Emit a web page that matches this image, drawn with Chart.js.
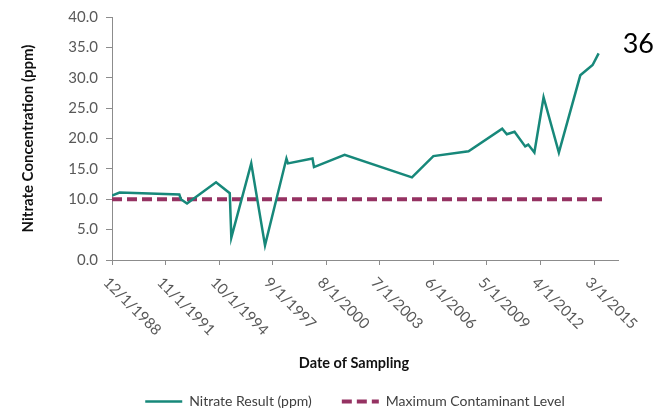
<!DOCTYPE html>
<html>
<head>
<meta charset="utf-8">
<script src="https://cdn.jsdelivr.net/npm/chart.js@4/dist/chart.umd.min.js"></script>
<style>
  body { margin: 0; background: #fff; }
  #wrap { width: 662px; height: 409px; }
</style>
</head>
<body>
<div id="wrap"><canvas id="chart" width="662" height="409"></canvas></div>
<script>
// sampling dates (m/d/yyyy) and nitrate readings
const sampleDates = ['12/1/1988','5/1/1989','8/1/1992','9/1/1992','1/1/1993','8/1/1994','5/1/1995','6/1/1995',
  '7/1/1996','4/1/1997','6/1/1998','7/1/1998','11/1/1999','12/1/1999','8/1/2001','4/1/2005','6/1/2006',
  '5/1/2008','3/1/2010','6/1/2010','11/1/2010','6/1/2011','8/1/2011','12/1/2011','6/1/2012','4/1/2013',
  '6/1/2014','2/1/2015','6/1/2015'];
const nitrate = [10.6,11.1,10.8,10.0,9.3,12.8,11.0,3.7,15.9,2.4,16.7,15.9,16.7,15.3,17.3,13.6,17.1,
  17.9,21.6,20.7,21.1,18.7,19.0,17.7,26.8,17.7,30.4,32.1,34.0];

// maximum contaminant level line
const mclDates = ['12/1/1988','8/20/2015'];
const mcl = [10, 10];

const tickLabels = ['12/1/1988','11/1/1991','10/1/1994','9/1/1997','8/1/2000','7/1/2003','6/1/2006','5/1/2009','4/1/2012','3/1/2015'];
const axisStart = '12/1/1988';
const axisEnd = '6/20/2016';
const endLabel = '36';

function toMs(s){
  const [m, d, y] = s.split('/').map(Number);
  return Date.UTC(y, m - 1, d);
}
const tickValues = tickLabels.map(toMs);

const overlay = {
  id: 'overlay',
  afterLayout(chart){
    // nudge legend to where excel put it
    const lg = chart.legend;
    lg.left -= 10; lg.right -= 10;
    lg.top += 9.5; lg.bottom += 9.5;
  },
  afterDraw(chart){
    const {ctx, scales: {x}} = chart;
    ctx.save();
    ctx.fillStyle = '#595959';
    ctx.font = '15px Lato';
    ctx.textAlign = 'left';
    ctx.textBaseline = 'middle';
    x.ticks.forEach((t, i) => {
      const px = x.getPixelForValue(t.value);
      ctx.save();
      ctx.translate(px - 6, x.top + 20);
      ctx.rotate(Math.PI / 4);
      ctx.fillText(tickLabels[i], 0, 0);
      ctx.restore();
    });
    ctx.fillStyle = '#111';
    ctx.font = 'bold 14.5px Lato';
    ctx.textAlign = 'center';
    ctx.fillText('Date of Sampling', (x.left + x.right) / 2 - 11, 363);

    const pts = chart.getDatasetMeta(0).data;
    const last = pts[pts.length - 1];
    ctx.fillStyle = '#000';
    ctx.font = '27px Lato';
    ctx.textAlign = 'left';
    ctx.fillText(endLabel, last.x + 24, last.y - 9);
    ctx.restore();
  }
};

new Chart(document.getElementById('chart'), {
  type: 'line',
  data: {
    datasets: [{
      label: 'Nitrate Result (ppm)',
      data: sampleDates.map((d, i) => ({x: toMs(d), y: nitrate[i]})),
      borderColor: '#17887a',
      backgroundColor: '#17887a',
      borderWidth: 2.5,
      pointRadius: 0,
      tension: 0
    }, {
      label: 'Maximum Contaminant Level',
      data: mclDates.map((d, i) => ({x: toMs(d), y: mcl[i]})),
      borderColor: '#953262',
      backgroundColor: '#953262',
      borderWidth: 4,
      borderDash: [10, 5],
      pointRadius: 0
    }]
  },
  options: {
    responsive: false,
    animation: false,
    layout: { padding: { top: 15, right: 44, left: 0, bottom: 0 } },
    scales: {
      x: {
        type: 'linear',
        min: toMs(axisStart),
        max: toMs(axisEnd),
        afterBuildTicks: s => { s.ticks = tickValues.map(v => ({value: v})); },
        afterFit: s => { s.height = 95; },
        ticks: { display: false },
        grid: { drawOnChartArea: false, drawTicks: true, tickLength: 5, color: '#8c8c8c' },
        border: { color: '#8c8c8c' }
      },
      y: {
        min: 0,
        max: 40,
        afterFit: s => { s.width = 112; },
        ticks: {
          stepSize: 5,
          padding: 8,
          color: '#595959',
          font: { size: 15, family: 'Lato' },
          callback: v => v.toFixed(1)
        },
        grid: { drawOnChartArea: false, drawTicks: true, tickLength: 6, color: '#8c8c8c' },
        border: { color: '#8c8c8c' },
        title: {
          display: true,
          text: 'Nitrate Concentration (ppm)',
          color: '#111',
          font: { size: 15, weight: 'bold', family: 'Lato' },
          padding: { top: 19, bottom: 0 }
        }
      }
    },
    plugins: {
      legend: {
        position: 'bottom',
        fullSize: false,
        labels: {
          usePointStyle: true,
          pointStyle: 'line',
          pointStyleWidth: 37,
          padding: 30,
          color: '#404040',
          font: { size: 14, family: 'Lato' },
          generateLabels: chart => {
            const items = Chart.defaults.plugins.legend.labels.generateLabels(chart);
            items.forEach(it => {
              const ds = chart.data.datasets[it.datasetIndex];
              it.lineDash = ds.borderDash || [];
              it.lineWidth = ds.borderWidth;
              it.strokeStyle = ds.borderColor;
            });
            return items;
          }
        }
      },
      tooltip: { enabled: false }
    }
  },
  plugins: [overlay]
});
</script>
</body>
</html>
